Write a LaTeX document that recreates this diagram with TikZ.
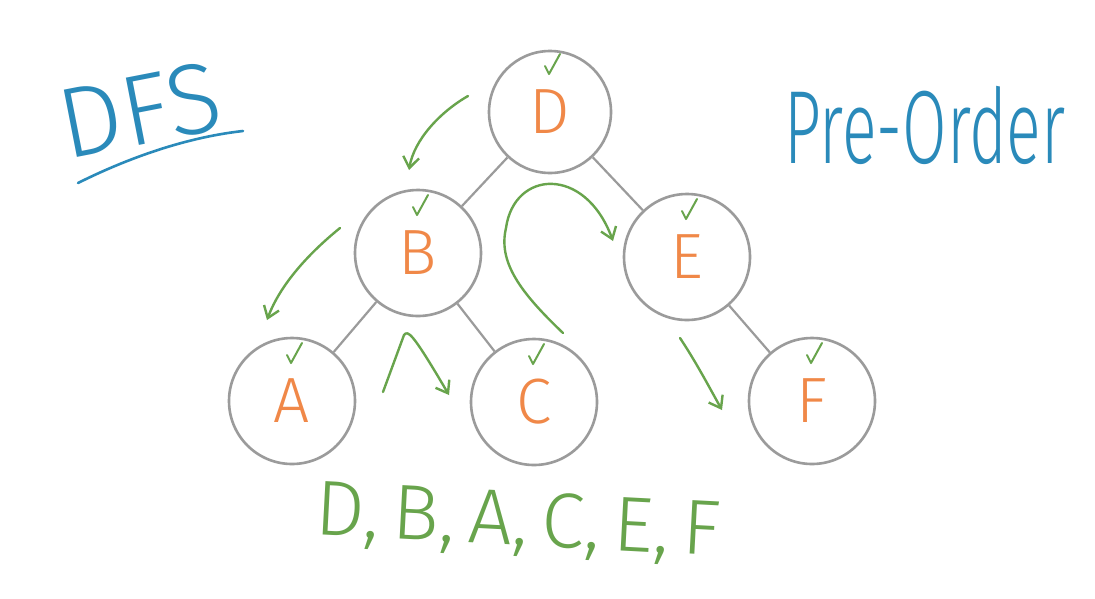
\documentclass[tikz,border=0pt]{standalone}
\usepackage{fontspec}
\setmainfont{Fira Sans}[UprightFont=* Light]
\usetikzlibrary{arrows.meta}
\definecolor{penblue}{RGB}{42,138,186}
\definecolor{pengreen}{RGB}{104,164,76}
\definecolor{penorange}{RGB}{240,136,72}
\definecolor{pengray}{RGB}{155,155,155}
\tikzset{
  treenode/.style={circle, draw=pengray, line width=2.6pt, minimum size=126pt, inner sep=0pt,
    text=penorange, font=\fontsize{64}{64}\selectfont},
  treeedge/.style={draw=pengray, line width=2.2pt},
  walk/.style={draw=pengreen, line width=2.4pt, line cap=round, line join=round,
    -{Straight Barb[length=11pt,width=16pt,line width=2.4pt]}},
  tick/.style={draw=pengreen, line width=2pt, line cap=round, line join=round},
  bluepen/.style={text=penblue, inner sep=0pt},
}
\newcommand{\tickmark}[1]{\draw[tick] ([shift={(-5,-46)}]#1.center) -- ([shift={(-1,-38)}]#1.center) -- ([shift={(10,-58)}]#1.center);}
\begin{document}
\begin{tikzpicture}[x=1pt,y=-1pt]
\useasboundingbox[fill=white] (0,0) rectangle (1095,598);
% tree nodes
\node[treenode, minimum size=122pt] (D) at (550,112) {\raisebox{-6pt}{D}};
\node[treenode] (B) at (418,253) {\raisebox{-4pt}{B}};
\node[treenode] (E) at (687,257) {\raisebox{-8pt}{E}};
\node[treenode] (A) at (292,401) {\raisebox{-4pt}{A}};
\node[treenode] (C) at (534,402) {\raisebox{-6pt}{C}};
\node[treenode] (F) at (812,401) {\raisebox{-2pt}{F}};
% tree edges
\draw[treeedge] (D) -- (B);
\draw[treeedge] (D) -- (E);
\draw[treeedge] (B) -- (A);
\draw[treeedge] (B) -- (C);
\draw[treeedge] (E) -- (F);
% ticks
\tickmark{D}\tickmark{B}\tickmark{E}\tickmark{A}\tickmark{C}\tickmark{F}
% walk arrows
\coordinate (w1s) at (468,96);   \coordinate (w1e) at (409,170);
\coordinate (w2s) at (340,228);  \coordinate (w2e) at (267,320);
\coordinate (w3s) at (383,392);  \coordinate (w3p) at (404,335); \coordinate (w3e) at (449,395);
\coordinate (w4s) at (563,333);  \coordinate (w4m) at (506,228); \coordinate (w4e) at (613,241);
\coordinate (w5s) at (680,338);  \coordinate (w5e) at (722,410);
\draw[walk] (w1s) .. controls (440,112) and (414,140) .. (w1e);
\draw[walk] (w2s) .. controls (308,254) and (280,285) .. (w2e);
\draw[walk] (w3s) -- (w3p) .. controls (408,330) and (412,332) .. (w3e);
\draw[walk] (w4s) .. controls (520,292) and (498,262) .. (w4m) .. controls (514,170) and (585,165) .. (w4e);
\draw[walk] (w5s) .. controls (696,362) and (708,385) .. (w5e);
% titles
\node[bluepen, font=\fontsize{100}{100}\selectfont, rotate=11] (dfs) at (140,110) {DFS};
\coordinate (ul1) at (78,183); \coordinate (ul2) at (243,131);
\draw[draw=penblue, line width=2.6pt, line cap=round] (ul1) .. controls (120,162) and (180,138) .. (ul2);
\node[bluepen, font=\fontsize{104}{104}\selectfont, xscale=0.62] (pre) at (925,125) {Pre-Order};
% traversal order
\node[text=pengreen, inner sep=0pt, font=\fontsize{78}{78}\selectfont, rotate=-3] (order) at (518,524) {D,\,B,\,A,\,C,\,E,\,F};
\end{tikzpicture}
\end{document}
